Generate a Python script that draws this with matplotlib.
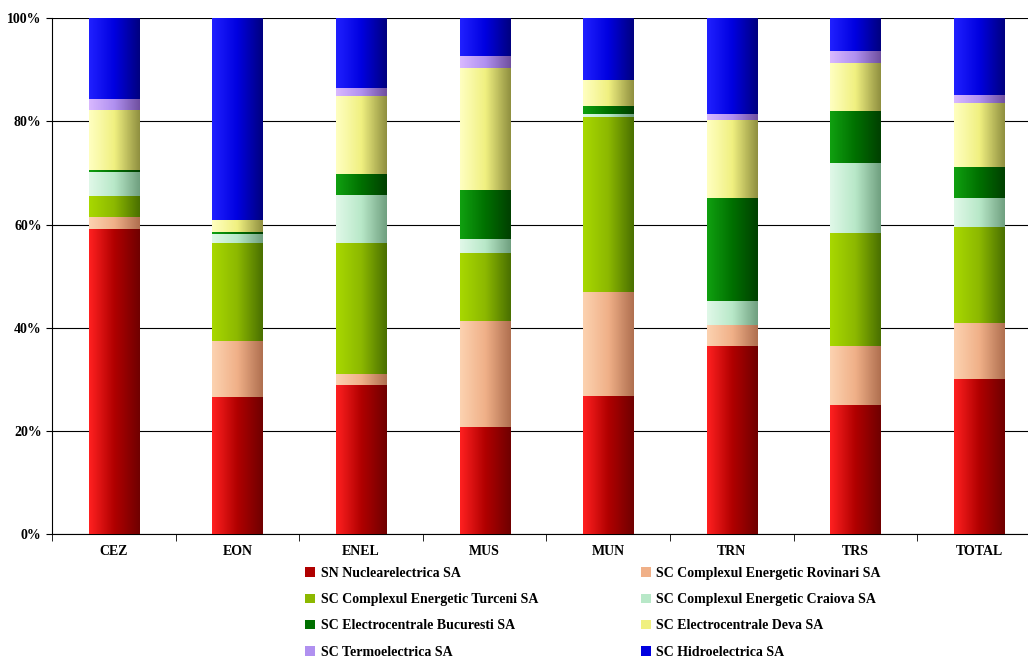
import numpy as np
import matplotlib.pyplot as plt
from matplotlib.colors import LinearSegmentedColormap
from matplotlib.patches import Patch

categories = ['CEZ', 'EON', 'ENEL', 'MUS', 'MUN', 'TRN', 'TRS', 'TOTAL']
series = ['SN Nuclearelectrica SA', 'SC Complexul Energetic Rovinari SA',
          'SC Complexul Energetic Turceni SA', 'SC Complexul Energetic Craiova SA',
          'SC Electrocentrale Bucuresti SA', 'SC Electrocentrale Deva SA',
          'SC Termoelectrica SA', 'SC Hidroelectrica SA']
# cumulative tops (%)
tops = np.array([
    [59.1, 61.4, 65.5, 70.2, 70.5, 82.2, 84.3, 100],
    [26.6, 37.4, 56.4, 58.1, 58.5, 60.9, 60.9, 100],
    [28.9, 31.0, 56.4, 65.7, 69.8, 84.9, 86.4, 100],
    [20.7, 41.3, 54.5, 57.2, 66.7, 90.3, 92.6, 100],
    [26.7, 46.9, 80.8, 81.4, 82.9, 88.0, 88.0, 100],
    [36.4, 40.5, 40.5, 45.2, 65.1, 80.2, 81.4, 100],
    [25.0, 36.4, 58.3, 71.9, 82.0, 91.3, 93.6, 100],
    [30.0, 40.9, 59.5, 65.1, 71.1, 83.5, 85.1, 100],
])
colors = [('#ff2020', '#b00000', '#700000'), ('#fcd2b0', '#f0b088', '#b07050'),
          ('#a8d800', '#8cb800', '#4a7000'), ('#e0f8e8', '#b8e8c8', '#70a080'),
          ('#10a010', '#007000', '#004000'), ('#ffffc0', '#f0f080', '#909040'),
          ('#d8b8ff', '#b090f0', '#7050a0'), ('#2020ff', '#0000e0', '#000080')]

plt.rcParams['font.family'] = ['Liberation Serif', 'DejaVu Serif']
plt.rcParams['font.weight'] = 'bold'
fig = plt.figure(figsize=(10.28, 6.58), dpi=100)
ax = fig.add_axes([0.0506, 0.1884, 0.962, 0.784])
x = np.arange(len(categories))
w = 0.405
grad = np.linspace(0, 1, 64).reshape(1, -1)
for j in range(len(series)):
    bottoms = tops[:, j - 1] if j else np.zeros(len(categories))
    heights = tops[:, j] - bottoms
    bars = ax.bar(x, heights, w, bottom=bottoms, color='none', zorder=3)
    cmap = LinearSegmentedColormap.from_list('g', colors[j])
    for b in bars:
        if b.get_height() <= 0:
            continue
        im = ax.imshow(grad, cmap=cmap, aspect='auto', zorder=3,
                       extent=[b.get_x(), b.get_x() + b.get_width(), b.get_y(), b.get_y() + b.get_height()])
        im.set_clip_path(b)

ax.set_xlim(-0.5, len(categories) - 0.5)
ax.set_ylim(0, 100)
ax.set_yticks(range(0, 101, 20))
ax.set_yticklabels([f'{v}%' for v in range(0, 101, 20)], fontsize=10, fontweight='bold')
ax.set_xticks(x)
ax.set_xticklabels(categories, fontsize=10, fontweight='bold')
ax.set_xticks(np.arange(-0.5, len(categories)), minor=True)
ax.tick_params(axis='x', which='major', length=0, pad=8)
ax.tick_params(axis='x', which='minor', length=5, direction='out')
ax.tick_params(axis='y', length=4)
ax.yaxis.grid(True, color='black', linewidth=0.8, zorder=0)
for s in ['top', 'right']:
    ax.spines[s].set_visible(False)

# legend fills row-wise in the reference, so reorder for column-major layout
order = [0, 2, 4, 6, 1, 3, 5, 7]
handles = [Patch(facecolor=colors[i][1], edgecolor='none') for i in order]
labels = [series[i] for i in order]
fig.legend(handles, labels, ncol=2, loc='lower left', bbox_to_anchor=(0.285, -0.020),
           frameon=False, fontsize=10, handlelength=0.7, handleheight=0.7,
           columnspacing=7.4, labelspacing=0.95, handletextpad=0.4)
fig.savefig('out.png', dpi=100)
